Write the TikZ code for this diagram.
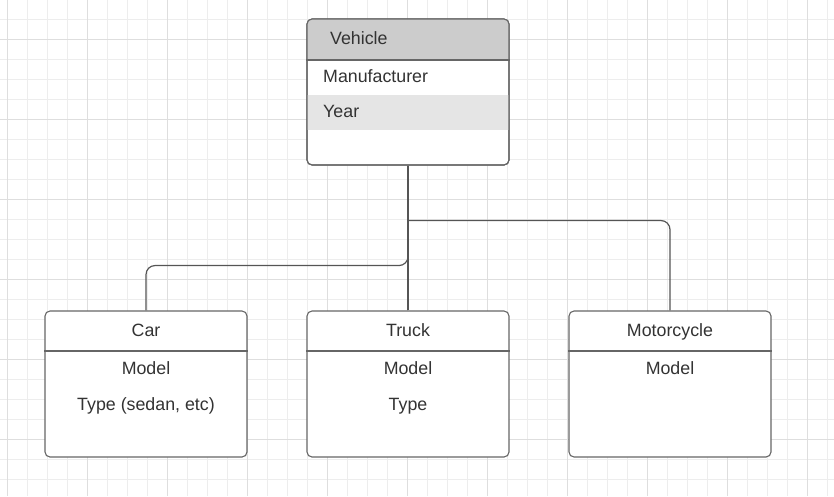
\documentclass[tikz,border=0pt]{standalone}
\usepackage{fontspec}
\setmainfont{Liberation Sans}
\definecolor{minorgrid}{HTML}{EDEDED}
\definecolor{majorgrid}{HTML}{DEDEDE}
\definecolor{boxline}{HTML}{666666}
\definecolor{hdrfill}{HTML}{CCCCCC}
\definecolor{rowfill}{HTML}{E5E5E5}
\definecolor{txt}{HTML}{333333}
\definecolor{conn}{HTML}{555555}
\tikzset{
  umlbox/.style={draw=boxline, line width=1.1pt, rounded corners=5pt, minimum width=202pt, minimum height=146pt, inner sep=0pt, fill=white},
  lbl/.style={text=txt, font=\fontsize{17.8}{20}\selectfont, inner sep=0pt, text height=13pt, text depth=0pt},
  divider/.style={draw=boxline, line width=1.1pt},
  connector/.style={draw=conn, line width=1.2pt, rounded corners=9pt},
}
\begin{document}
\begin{tikzpicture}[x=1pt,y=-1pt]
\useasboundingbox (0,0) rectangle (834,496);
% grid
\foreach \x in {7,27,...,834} \draw[minorgrid, line width=0.8pt] (\x,0) -- (\x,496);
\foreach \y in {-1,19,...,496} \draw[minorgrid, line width=0.8pt] (0,\y) -- (834,\y);
\foreach \x in {7,87,...,834} \draw[majorgrid, line width=0.9pt] (\x,0) -- (\x,496);
\foreach \y in {39,119,...,496} \draw[majorgrid, line width=0.9pt] (0,\y) -- (834,\y);

\node[umlbox] (V) at (408,92) {};
\node[umlbox] (C) at (146,384) {};
\node[umlbox] (T) at (408,384) {};
\node[umlbox] (M) at (670,384) {};

% connectors
\draw[connector] (V.south) -- (T.north);
\draw[connector] (V.south) -- ++(0,100) -| (C.north);
\draw[connector] (V.south) ++(0,55) -| (M.north);

% Vehicle box details
\begin{scope}
\clip[rounded corners=5pt] (307,19) rectangle (509,165);
\fill[hdrfill] (307,19) rectangle (509,60);
\fill[rowfill] (307,95) rectangle (509,130);
\end{scope}
\draw[umlbox, fill=none] (307,19) rectangle (509,165);
\draw[divider] (V.north west |- 0,60) -- (V.north east |- 0,60);
\node[lbl, anchor=west] (vt) at (330,38) {Vehicle};
\node[lbl, anchor=west] (vm) at (323,76) {Manufacturer};
\node[lbl, anchor=west] (vy) at (323,111) {Year};

% Car
\draw[divider] (C.north west |- 0,351) -- (C.north east |- 0,351);
\node[lbl] (ct) at (146,330) {Car};
\node[lbl] (cm) at (146,368) {Model};
\node[lbl] (cy) at (146,404) {Type (sedan, etc)};

% Truck
\draw[divider] (T.north west |- 0,351) -- (T.north east |- 0,351);
\node[lbl] (tt) at (408,330) {Truck};
\node[lbl] (tm) at (408,368) {Model};
\node[lbl] (ty) at (408,404) {Type};

% Motorcycle
\draw[divider] (M.north west |- 0,351) -- (M.north east |- 0,351);
\node[lbl] (mt) at (670,330) {Motorcycle};
\node[lbl] (mm) at (670,368) {Model};
\end{tikzpicture}
\end{document}
